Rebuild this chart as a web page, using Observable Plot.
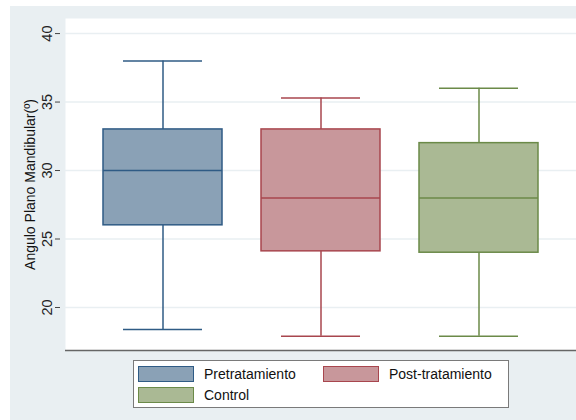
<!DOCTYPE html>
<html>
<head>
<meta charset="utf-8">
<script src="https://cdn.jsdelivr.net/npm/d3@7"></script>
<script src="https://cdn.jsdelivr.net/npm/@observablehq/plot@0.6"></script>
<style>
  html, body { margin: 0; padding: 0; background: #ffffff; }
  #page { position: relative; width: 576px; height: 420px; overflow: hidden; background: #ffffff; font-family: "Liberation Sans", Arial, sans-serif; }
  #panel { position: absolute; left: 10px; top: 6px; width: 566px; height: 414px; background: #e9eff2; }
  #chart { position: absolute; left: 0; top: 0; }
  #legend { position: absolute; left: 123px; top: 354px; width: 376px; height: 48px; background: #ffffff; border: 1px solid #7a7a7a; box-sizing: border-box; font-size: 14px; color: #111; }
  .item { position: absolute; display: flex; align-items: center; height: 16px; }
  .sw { width: 56px; height: 16px; box-sizing: border-box; border: 1.5px solid; margin-right: 10px; }
</style>
</head>
<body>
<div id="page">
  <div id="panel">
    <div id="chart"></div>
    <div id="legend"></div>
  </div>
</div>
<script>
// Five-number summaries of the mandibular plane angle per group
const groups  = ["Pretratamiento", "Post-tratamiento", "Control"];
const minVals = [18.4, 17.9, 17.9];
const q1Vals  = [26, 24.1, 24];
const medVals = [30, 28, 28];
const q3Vals  = [33, 33, 32];
const maxVals = [38, 35.3, 36];
const yTicks  = [20, 25, 30, 35, 40];
const fills   = ["#8aa1b6", "#c8979b", "#aab994"];
const strokes = ["#2f5b85", "#a8464e", "#6b8a48"];

const rows = groups.map((g, i) => ({
  group: g, min: minVals[i], q1: q1Vals[i], median: medVals[i], q3: q3Vals[i], max: maxVals[i],
  fill: fills[i], stroke: strokes[i]
}));

const yDomain = [16.86, 41.1];

const chart = Plot.plot({
  width: 566,
  height: 350,
  marginLeft: 55,
  marginTop: 12,
  marginBottom: 6,
  marginRight: 0,
  style: { background: "transparent", fontFamily: "Liberation Sans, Arial, sans-serif" },
  x: { domain: groups, paddingInner: 0.25, paddingOuter: 0.24, axis: null },
  y: { domain: yDomain, axis: null },
  marks: [
    Plot.frame({ fill: "#ffffff", stroke: "none" }),
    Plot.ruleY(yTicks, { stroke: "#e9eff2", strokeWidth: 1.5 }),
    Plot.axisY({
      ticks: yTicks, tickSize: 5, tickPadding: 4, line: true,
      stroke: "#444", fontSize: 14.5, fill: "#222",
      tickRotate: -90, textAnchor: "middle", dx: -5, label: null
    }),
    Plot.ruleY([yDomain[0]], { stroke: "#666", strokeWidth: 1.5 }),
    Plot.text(["Angulo Plano Mandibular(º)"], {
      frameAnchor: "left", dx: -35, rotate: -90, textAnchor: "middle", fontSize: 14, fill: "#111"
    }),
    // whiskers
    Plot.ruleX(rows, { x: "group", y1: "min", y2: "q1", stroke: "stroke", strokeWidth: 1.5 }),
    Plot.ruleX(rows, { x: "group", y1: "q3", y2: "max", stroke: "stroke", strokeWidth: 1.5 }),
    Plot.tickY(rows, { x: "group", y: "min", stroke: "stroke", strokeWidth: 1.5, insetLeft: 20, insetRight: 20 }),
    Plot.tickY(rows, { x: "group", y: "max", stroke: "stroke", strokeWidth: 1.5, insetLeft: 20, insetRight: 20 }),
    // boxes
    Plot.barY(rows, { x: "group", y1: "q1", y2: "q3", fill: "fill", stroke: "stroke", strokeWidth: 1.5 }),
    Plot.tickY(rows, { x: "group", y: "median", stroke: "stroke", strokeWidth: 1.5 })
  ]
});
document.getElementById("chart").appendChild(chart);

// legend
const legend = document.getElementById("legend");
const pos = [[4, 5], [189, 5], [4, 26]];
groups.forEach((g, i) => {
  const item = document.createElement("div");
  item.className = "item";
  item.style.left = pos[i][0] + "px";
  item.style.top = pos[i][1] + "px";
  const sw = document.createElement("div");
  sw.className = "sw";
  sw.style.background = fills[i];
  sw.style.borderColor = strokes[i];
  const lab = document.createElement("span");
  lab.textContent = g;
  item.appendChild(sw);
  item.appendChild(lab);
  legend.appendChild(item);
});
</script>
</body>
</html>
